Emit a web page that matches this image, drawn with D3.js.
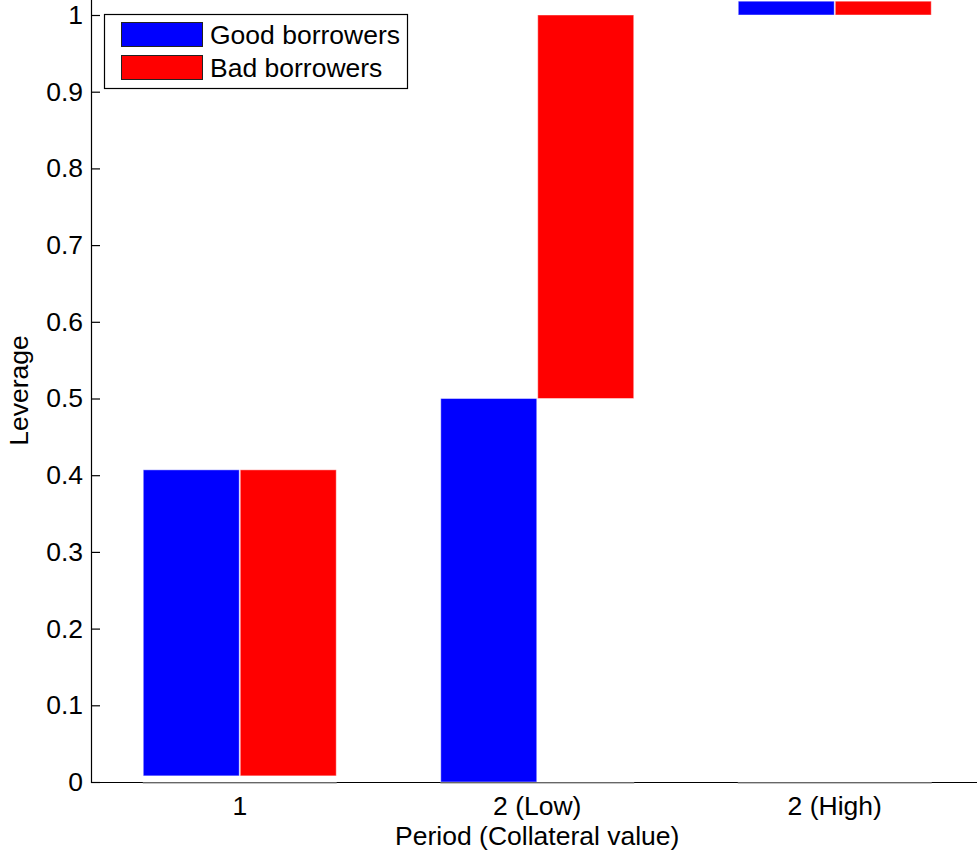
<!DOCTYPE html>
<html>
<head>
<meta charset="utf-8">
<script src="https://cdn.jsdelivr.net/npm/d3@7"></script>
<style>
  html, body { margin: 0; padding: 0; background: #fff; }
  svg { display: block; }
  text { font-family: "Liberation Sans", Arial, Helvetica, sans-serif; fill: #000; }
</style>
</head>
<body>
<svg id="chart" width="977" height="859"></svg>
<script>
// ---- data ----
const categories = ["1", "2 (Low)", "2 (High)"];
const seriesNames = ["Good borrowers", "Bad borrowers"];
const seriesColors = ["#0000ff", "#ff0000"];
const goodBase = [0.008, 0.0, 1.0];
const goodTop  = [0.407, 0.5, 1.018];
const badBase  = [0.008, 0.5, 1.0];
const badTop   = [0.407, 1.0, 1.018];
const yTicks = [0, 0.1, 0.2, 0.3, 0.4, 0.5, 0.6, 0.7, 0.8, 0.9, 1];
const yAxisTop = 1.02;
const xLabel = "Period (Collateral value)";
const yLabel = "Leverage";

// ---- layout ----
const W = 977, H = 859;
const left = 91, bottom = 782, yOnePx = 15;
const fontSize = 26.5;

const svg = d3.select("#chart");

const y = d3.scaleLinear().domain([0, 1]).range([bottom, yOnePx]);
const x0 = d3.scaleBand().domain(categories).range([left, 983.5])
  .paddingInner(0.348).paddingOuter(0.174);
const x1 = d3.scaleBand().domain(seriesNames).range([0, x0.bandwidth()]);

// clip
svg.append("defs").append("clipPath").attr("id", "plot")
  .append("rect").attr("x", left).attr("y", 0).attr("width", W - left).attr("height", bottom);

const bars = [];
categories.forEach((c, i) => {
  bars.push({cat: c, s: seriesNames[0], b: goodBase[i], t: goodTop[i], col: seriesColors[0]});
  bars.push({cat: c, s: seriesNames[1], b: badBase[i], t: badTop[i], col: seriesColors[1]});
});

// x axis baseline (black)
svg.append("line")
  .attr("x1", left).attr("x2", W)
  .attr("y1", y(0) + 0.5).attr("y2", y(0) + 0.5)
  .attr("stroke", "#000").attr("stroke-width", 1.2);

// gray baseline under each group (bar base edges)
svg.append("g").selectAll("line").data(categories).join("line")
  .attr("x1", d => x0(d)).attr("x2", d => x0(d) + x0.bandwidth())
  .attr("y1", y(0) + 0.8).attr("y2", y(0) + 0.8)
  .attr("stroke", "#8a8a8a").attr("stroke-width", 1.3);

// bars
svg.append("g").attr("clip-path", "url(#plot)")
  .selectAll("rect").data(bars).join("rect")
  .attr("x", d => x0(d.cat) + x1(d.s) + 0.5)
  .attr("width", x1.bandwidth() - 1)
  .attr("y", d => y(d.t))
  .attr("height", d => y(d.b) - y(d.t))
  .attr("fill", d => d.col)
  .attr("stroke", "#ffffff").attr("stroke-opacity", 0.45).attr("stroke-width", 1);

// y axis
const yAxis = d3.axisLeft(y).tickValues(yTicks).tickSizeInner(-9).tickSizeOuter(0)
  .tickPadding(8).tickFormat(d3.format("~g"));
const gy = svg.append("g").attr("transform", `translate(${left},0)`).call(yAxis);
gy.select(".domain").remove();
gy.selectAll(".tick line").attr("stroke", "#000").attr("stroke-width", 1.2);
gy.selectAll(".tick text").attr("font-size", fontSize)
  .attr("font-family", "'Liberation Sans', Arial, Helvetica, sans-serif").attr("fill", "#000");
svg.append("line")
  .attr("x1", left + 0.5).attr("x2", left + 0.5)
  .attr("y1", y(0) + 1).attr("y2", y(yAxisTop))
  .attr("stroke", "#000").attr("stroke-width", 1.2);

// x tick labels
svg.append("g").selectAll("text").data(categories).join("text")
  .attr("x", d => x0(d) + x0.bandwidth() / 2)
  .attr("y", bottom + 33)
  .attr("text-anchor", "middle")
  .attr("font-size", fontSize)
  .text(d => d);

// axis labels
svg.append("text")
  .attr("x", (left + 983.5) / 2).attr("y", bottom + 63)
  .attr("text-anchor", "middle").attr("font-size", fontSize)
  .text(xLabel);
svg.append("text")
  .attr("transform", `translate(28,${(bottom + yOnePx) / 2 - 8}) rotate(-90)`)
  .attr("text-anchor", "middle").attr("font-size", fontSize)
  .text(yLabel);

// legend
const lg = svg.append("g");
lg.append("rect").attr("x", 104.5).attr("y", 14.5).attr("width", 303).attr("height", 74)
  .attr("fill", "#fff").attr("stroke", "#000").attr("stroke-width", 1.2);
const items = lg.selectAll("g.item").data(seriesNames).join("g").attr("class", "item")
  .attr("transform", (d, i) => `translate(121,${22 + i * 33})`);
items.append("rect").attr("x", 0.5).attr("y", 0.5).attr("width", 81).attr("height", 24)
  .attr("fill", (d, i) => seriesColors[i]).attr("stroke", "#222").attr("stroke-width", 1);
items.append("text").attr("x", 89).attr("y", 22).attr("font-size", fontSize).text(d => d);
</script>
</body>
</html>
